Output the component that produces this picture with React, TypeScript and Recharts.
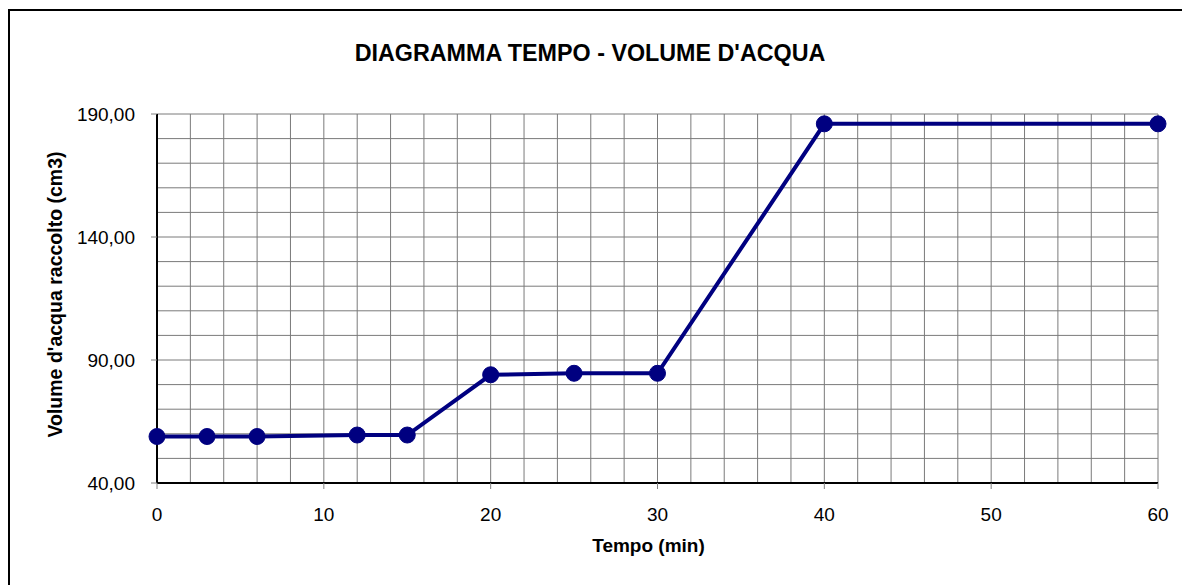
import { LineChart, Line, XAxis, YAxis, CartesianGrid, Label } from 'recharts';

// Tempo (min) / volume d'acqua raccolto (cm3)
const tempo = [0, 3, 6, 12, 15, 20, 25, 30, 40, 60];
const volume = [58.9, 58.9, 58.9, 59.5, 59.5, 84.0, 84.6, 84.6, 186.0, 186.0];

const xTicks = [0, 10, 20, 30, 40, 50, 60];
const yTicks = [40, 90, 140, 190];
const xGrid = [0, 2, 4, 6, 8, 10, 12, 14, 16, 18, 20, 22, 24, 26, 28, 30, 32, 34, 36, 38, 40, 42, 44, 46, 48, 50, 52, 54, 56, 58, 60];
const yGrid = [40, 50, 60, 70, 80, 90, 100, 110, 120, 130, 140, 150, 160, 170, 180, 190];

const data = tempo.map((t, i) => ({ tempo: t, volume: volume[i] }));

const FONT = '"Liberation Sans", Arial, sans-serif';
const NAVY = '#000080';

const formatVolume = (v: number) => v.toFixed(2).replace('.', ',');

const YTitle = (props: any) => {
  const { x, y, height } = props.viewBox;
  const cx = x + 5;
  const cy = y + height / 2 - 4;
  return (
    <text
      x={cx}
      y={cy}
      transform={`rotate(-90 ${cx} ${cy})`}
      textAnchor="middle"
      fontFamily={FONT}
      fontWeight="bold"
      fontSize={19.5}
      fill="#000"
    >
      Volume d'acqua raccolto (cm3)
    </text>
  );
};

const XTitle = (props: any) => {
  const { x, y, width } = props.viewBox;
  return (
    <text
      x={x + width / 2 - 9}
      y={y + 69}
      textAnchor="middle"
      fontFamily={FONT}
      fontWeight="bold"
      fontSize={19}
      fill="#000"
    >
      Tempo (min)
    </text>
  );
};

export default function App() {
  return (
    <div style={{ position: 'relative', width: 1182, height: 577, background: '#fff', fontFamily: FONT }}>
      <div style={{ position: 'absolute', left: 0, top: 1, width: 1182, height: 2, background: '#000' }} />
      <div style={{ position: 'absolute', left: 0, top: 1, width: 2, height: 576, background: '#000' }} />
      <div
        style={{
          position: 'absolute',
          left: 582,
          top: 34,
          transform: 'translateX(-50%)',
          fontSize: 23.3,
          lineHeight: 1,
          fontWeight: 'bold',
          whiteSpace: 'nowrap',
          color: '#000',
        }}
      >
        DIAGRAMMA TEMPO - VOLUME D'ACQUA
      </div>
      <LineChart
        width={1182}
        height={577}
        data={data}
        margin={{ top: 106, right: 32, bottom: 42, left: 49 }}
      >
        <CartesianGrid
          stroke="#7a7a7a"
          strokeWidth={1}
          verticalValues={xGrid}
          horizontalValues={yGrid}
        />
        <XAxis
          dataKey="tempo"
          type="number"
          domain={[0, 60]}
          ticks={xTicks}
          height={60}
          interval={0}
          axisLine={{ stroke: '#000', strokeWidth: 2 }}
          tickLine={{ stroke: '#808080' }}
          tickSize={6}
          tickMargin={19}
          tick={{ fill: '#000', fontSize: 19, fontFamily: FONT }}
        >
          <Label content={XTitle} />
        </XAxis>
        <YAxis
          type="number"
          domain={[40, 190]}
          ticks={yTicks}
          width={100}
          interval={0}
          axisLine={{ stroke: '#000', strokeWidth: 2 }}
          tickLine={{ stroke: '#808080' }}
          tickSize={6}
          tickMargin={16}
          tickFormatter={formatVolume}
          tick={{ fill: '#000', fontSize: 19, fontFamily: FONT }}
        >
          <Label content={YTitle} />
        </YAxis>
        <Line
          dataKey="volume"
          type="linear"
          stroke={NAVY}
          strokeWidth={4}
          dot={{ r: 8, fill: NAVY, stroke: NAVY, strokeWidth: 1 }}
          isAnimationActive={false}
        />
      </LineChart>
    </div>
  );
}
